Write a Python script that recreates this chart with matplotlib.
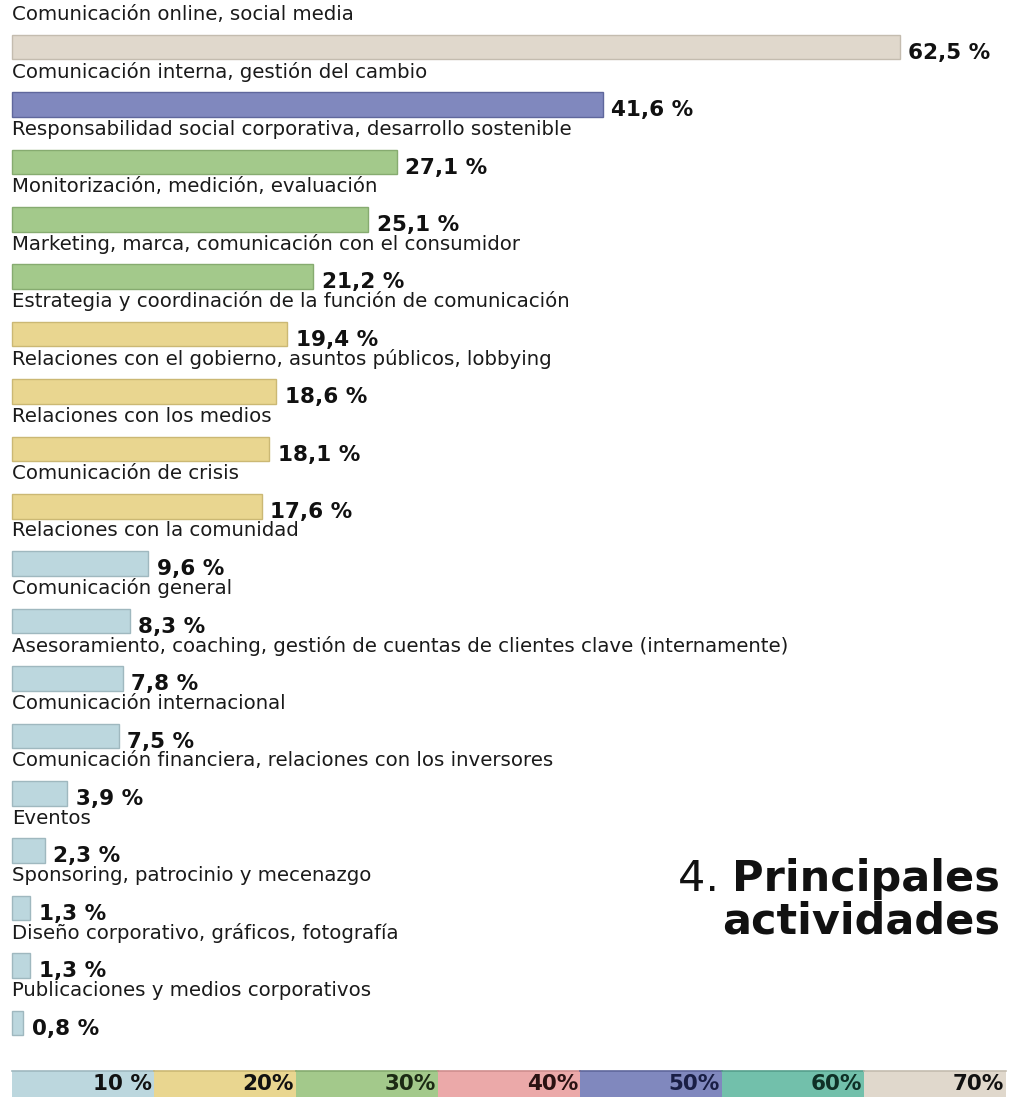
import matplotlib.pyplot as plt

# Activities and share of respondents (%)
activities = [
    "Comunicación online, social media",
    "Comunicación interna, gestión del cambio",
    "Responsabilidad social corporativa, desarrollo sostenible",
    "Monitorización, medición, evaluación",
    "Marketing, marca, comunicación con el consumidor",
    "Estrategia y coordinación de la función de comunicación",
    "Relaciones con el gobierno, asuntos públicos, lobbying",
    "Relaciones con los medios",
    "Comunicación de crisis",
    "Relaciones con la comunidad",
    "Comunicación general",
    "Asesoramiento, coaching, gestión de cuentas de clientes clave (internamente)",
    "Comunicación internacional",
    "Comunicación financiera, relaciones con los inversores",
    "Eventos",
    "Sponsoring, patrocinio y mecenazgo",
    "Diseño corporativo, gráficos, fotografía",
    "Publicaciones y medios corporativos",
]
values = [62.5, 41.6, 27.1, 25.1, 21.2, 19.4, 18.6, 18.1, 17.6,
          9.6, 8.3, 7.8, 7.5, 3.9, 2.3, 1.3, 1.3, 0.8]

# Colour scale: one colour per 10 % band
band_limits = [10, 20, 30, 40, 50, 60, 70]
band_labels = ["10 %", "20%", "30%", "40%", "50%", "60%", "70%"]
band_colors = ["#bcd7de", "#e9d690", "#a3c98b", "#eba9a9", "#8088be", "#72c0ab", "#e0d8cc"]
band_edges = ["#9fb8bf", "#cbb874", "#86ab70", "#cf8e8e", "#5f679c", "#569f8c", "#c4bcaf"]
band_text = ["#111111", "#111111", "#1c2a14", "#2a1212", "#1a1f45", "#0f3026", "#111111"]


def band_of(v):
    for i, lim in enumerate(band_limits):
        if v <= lim:
            return i
    return len(band_limits) - 1


fig = plt.figure(figsize=(10.1, 10.97), dpi=100)
ax = fig.add_axes([0, 0, 1, 1])
ax.set_xlim(-0.845, 70.28)
ax.set_ylim(18.29, -0.82)
ax.axis("off")

bar_h = 0.43
label_font = "DejaVu Sans"
value_font = "DejaVu Sans"

for i, (name, v) in enumerate(zip(activities, values)):
    b = band_of(v)
    ax.barh(i, v, height=bar_h, left=0, color=band_colors[b],
            edgecolor=band_edges[b], linewidth=1.0)
    ax.text(0, i - 0.57, name, ha="left", va="center", fontsize=14.2,
            family=label_font, color="#1a1a1a")
    ax.text(v + 0.6, i + 0.1, f"{v:.1f}".replace(".", ",") + " %",
            ha="left", va="center", fontsize=15.5, family=value_font,
            weight="bold", color="#111111")

# Colour legend strip along the bottom
legend_y = 18.07
lefts = [0] + band_limits[:-1]
for lo, hi, lab, c, e, tc in zip(lefts, band_limits, band_labels,
                                 band_colors, band_edges, band_text):
    ax.barh(legend_y, hi - lo, height=0.45, left=lo, color=c, linewidth=0)
    ax.plot([lo, hi], [legend_y - 0.225, legend_y - 0.225], color=e, lw=1.2)
    ax.text(hi - 0.15, legend_y, lab, ha="right", va="center",
            fontsize=15.5, family=value_font, weight="bold", color=tc)

# Title
t1 = ax.text(69.6, 14.5, "Principales", ha="right", va="center",
             fontsize=31, family="DejaVu Sans", weight="bold", color="#111111")
ax.annotate("4. ", xy=(0, 0.5), xycoords=t1, ha="right", va="center",
            fontsize=31, family="DejaVu Sans", color="#111111")
ax.text(69.6, 15.23, "actividades", ha="right", va="center",
        fontsize=31, family="DejaVu Sans", weight="bold", color="#111111")

fig.savefig("out.png", dpi=100, facecolor="white")
